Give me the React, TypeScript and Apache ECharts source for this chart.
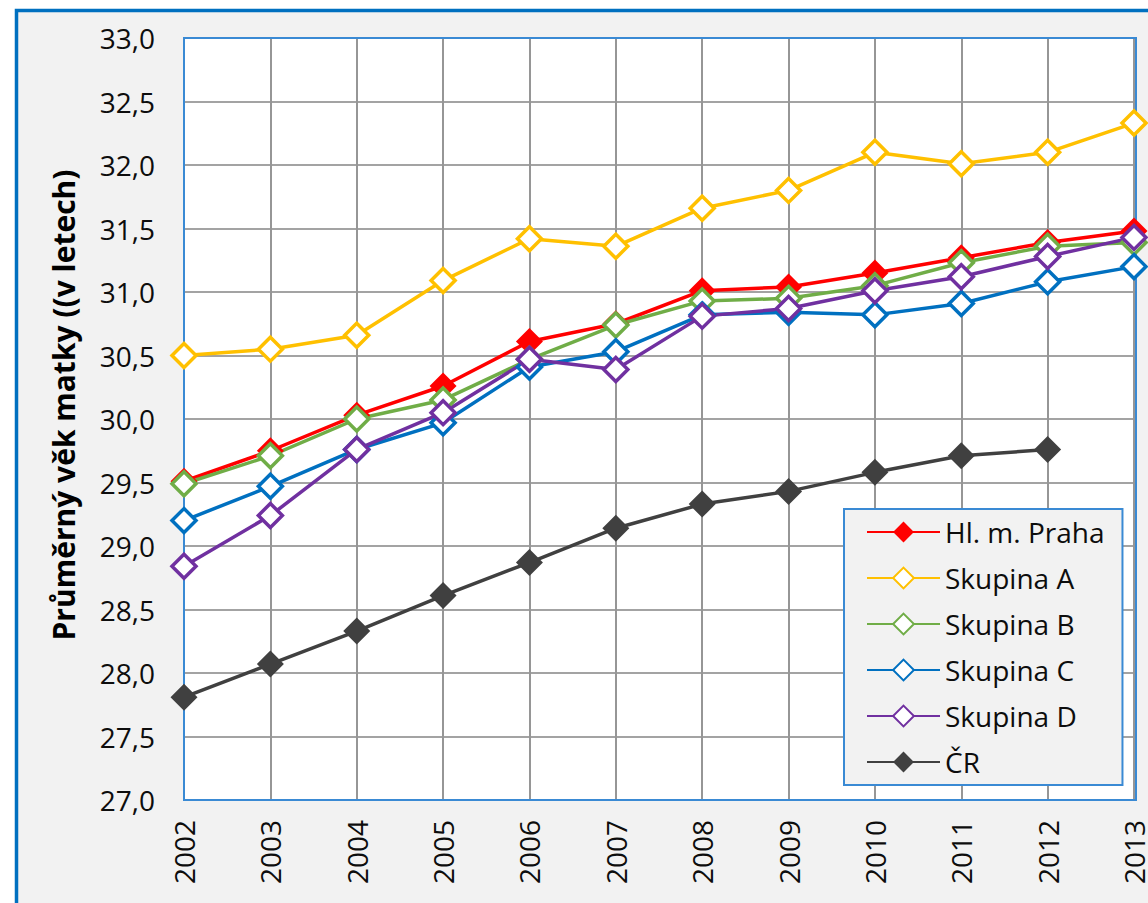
import React, { useEffect, useRef } from "react";
import * as echarts from "echarts";

const years = ["2002", "2003", "2004", "2005", "2006", "2007", "2008", "2009", "2010", "2011", "2012", "2013"];
const praha = [29.51, 29.75, 30.03, 30.26, 30.61, 30.75, 31.01, 31.04, 31.15, 31.27, 31.39, 31.48];
const skupinaA = [30.5, 30.55, 30.66, 31.09, 31.42, 31.36, 31.66, 31.8, 32.1, 32.01, 32.1, 32.33];
const skupinaB = [29.49, 29.71, 30.0, 30.15, 30.47, 30.74, 30.93, 30.95, 31.05, 31.23, 31.36, 31.39];
const skupinaC = [29.2, 29.47, 29.76, 29.97, 30.41, 30.53, 30.82, 30.84, 30.82, 30.91, 31.08, 31.2];
const skupinaD = [28.84, 29.24, 29.76, 30.05, 30.47, 30.39, 30.81, 30.87, 31.01, 31.12, 31.28, 31.43];
const cr = [27.81, 28.07, 28.33, 28.61, 28.87, 29.14, 29.33, 29.43, 29.58, 29.71, 29.76, null];

const FONT = "'Open Sans', 'Noto Sans', sans-serif";
const TEXT = "#0d0d0d";

export default function App() {
  const ref = useRef<HTMLDivElement>(null);
  useEffect(() => {
    if (!ref.current) return;
    const chart = echarts.init(ref.current, null, { renderer: "svg" });
    const mk = (name: string, data: any[], color: string, filled: boolean) => ({
      name,
      type: "line",
      data,
      symbol: "diamond",
      symbolSize: filled ? 27 : 24,
      showAllSymbol: true,
      lineStyle: { color, width: 3.5 },
      itemStyle: filled
        ? { color, borderColor: color, borderWidth: 0 }
        : { color: "#ffffff", borderColor: color, borderWidth: 3.5 },
      color,
      connectNulls: false,
    });
    chart.setOption({
      animation: false,
      textStyle: { fontFamily: FONT },
      grid: {
        left: 184,
        top: 38,
        width: 952,
        height: 762,
        show: true,
        backgroundColor: "#ffffff",
        borderWidth: 0,
      },
      graphic: [
        {
          type: "rect",
          z: -10,
          silent: true,
          shape: { x: 16.5, y: 10.5, width: 1200, height: 1000 },
          style: { fill: "#f2f2f2", stroke: "#0070c0", lineWidth: 3.5 },
        },
        {
          type: "rect",
          z: 1,
          silent: true,
          shape: { x: 184, y: 38, width: 952, height: 762 },
          style: { fill: null, stroke: "#3a8ad4", lineWidth: 2 },
        },
        {
          type: "text",
          z: 5,
          x: 63,
          y: 405,
          rotation: Math.PI / 2,
          style: {
            text: "Průměrný věk matky ((v letech)",
            fontFamily: FONT,
            fontSize: 30,
            fontWeight: "bold",
            fill: "#000000",
            align: "center",
            verticalAlign: "middle",
          },
        },
      ],
      xAxis: {
        type: "category",
        data: years,
        boundaryGap: false,
        axisLine: { show: false },
        axisTick: { show: false },
        splitLine: { show: true, lineStyle: { color: "#969696", width: 2 } },
        axisLabel: {
          rotate: 90,
          margin: 20,
          fontSize: 28,
          color: TEXT,
          fontFamily: FONT,
          interval: 0,
          showMaxLabel: true,
        },
      },
      yAxis: {
        type: "value",
        min: 27,
        max: 33,
        interval: 0.5,
        axisLine: { show: false },
        axisTick: { show: false },
        splitLine: { show: true, lineStyle: { color: "#a3a3a3", width: 2 } },
        axisLabel: {
          margin: 29,
          fontSize: 28,
          color: TEXT,
          fontFamily: FONT,
          formatter: (v: number) => v.toFixed(1).replace(".", ","),
        },
      },
      legend: {
        orient: "vertical",
        left: 844,
        top: 509,
        padding: [8, 18, 8, 22],
        backgroundColor: "#f2f2f2",
        borderColor: "#3a8ad4",
        borderWidth: 2,
        itemWidth: 73,
        itemHeight: 26,
        itemGap: 16,
        textStyle: { fontSize: 28, color: TEXT, fontFamily: FONT, lineHeight: 30 },
        data: ["Hl. m. Praha", "Skupina A", "Skupina B", "Skupina C", "Skupina D", "ČR"],
      },
      series: [
        mk("ČR", cr, "#404040", true),
        mk("Hl. m. Praha", praha, "#ff0000", true),
        mk("Skupina A", skupinaA, "#ffc000", false),
        mk("Skupina B", skupinaB, "#70ad47", false),
        mk("Skupina C", skupinaC, "#0070c0", false),
        mk("Skupina D", skupinaD, "#7030a0", false),
      ],
    });
    return () => chart.dispose();
  }, []);
  return (
    <div
      ref={ref}
      style={{ position: "absolute", left: 0, top: 0, width: 1148, height: 903, background: "#ffffff" }}
    />
  );
}
